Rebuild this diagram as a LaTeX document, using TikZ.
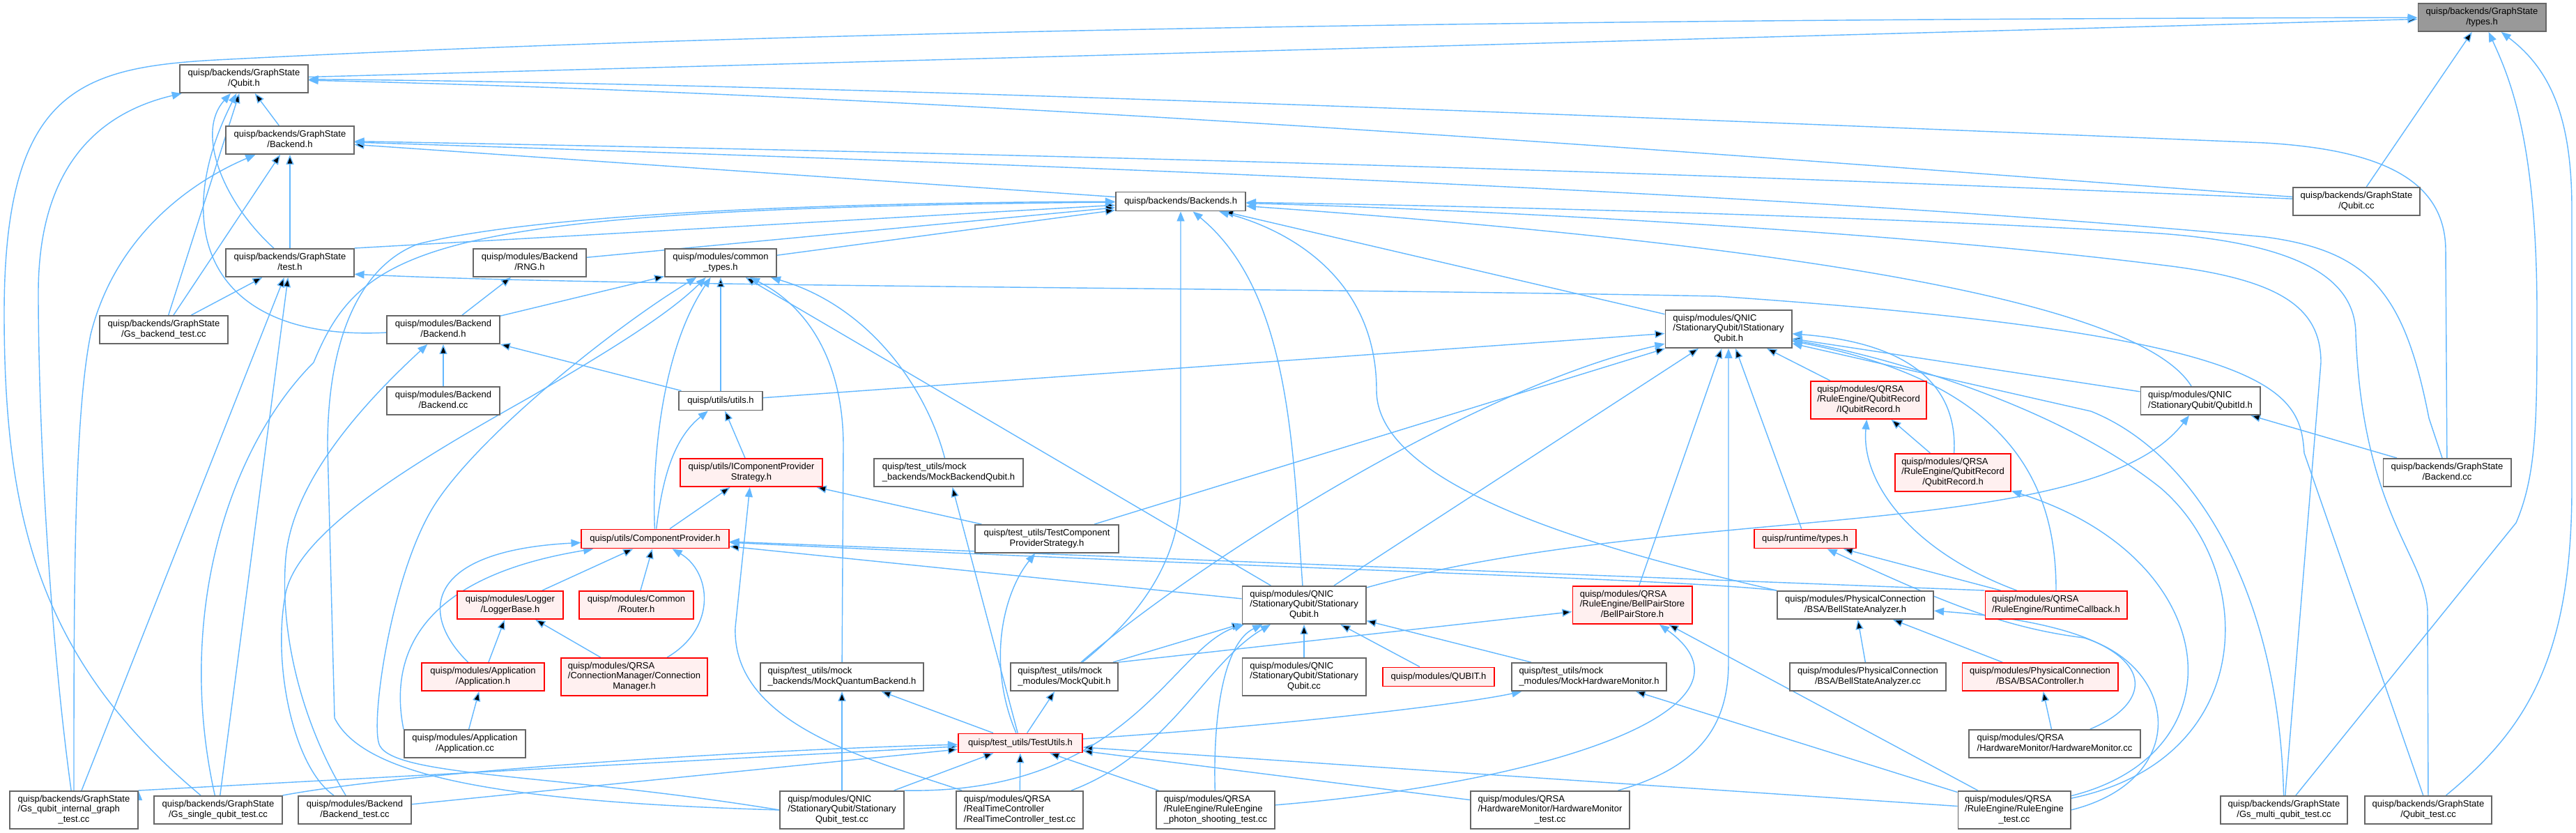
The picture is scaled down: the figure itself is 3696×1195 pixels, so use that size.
\documentclass[tikz,border=0pt]{standalone}
\usepackage{fontspec}
\setmainfont{Liberation Sans}
\usetikzlibrary{arrows.meta}
\pgfdeclarelayer{background}
\pgfsetlayers{background,main}
\definecolor{edgeblue}{HTML}{63B8FF}
\definecolor{bordergray}{HTML}{666666}
\definecolor{rootgray}{HTML}{999999}
\definecolor{redfill}{HTML}{FFF0F0}
\definecolor{redborder}{HTML}{FF0000}
\newcommand{\lbl}[2]{\begin{tabular}{@{}l@{}}#1\\\multicolumn{1}{@{}c@{}}{#2}\end{tabular}}

\begin{document}
\begin{tikzpicture}[x=0.01cm,y=-0.01cm,
    every node/.style={rectangle,inner sep=0pt,font=\fontsize{3.7}{4.1}\selectfont},
    graynode/.style={draw=bordergray,line width=0.55pt,fill=white},
    rednode/.style={draw=redborder,line width=0.55pt,fill=redfill},
    rootnode/.style={draw=bordergray,line width=0.55pt,fill=rootgray},
    oneline/.style={minimum height=0.27cm},
    twoline/.style={minimum height=0.40cm},
    threeline/.style={minimum height=0.54cm},
    bluearrow/.style={draw=edgeblue,line width=0.4pt,-{Triangle[length=0.14cm,width=0.11cm]}}
  ]
    \node[rootnode,twoline,minimum width=1.83cm] (ty) at (3561,25) {\lbl{quisp/backends/GraphState}{/types.h}};
    \node[graynode,twoline,minimum width=1.83cm] (gsq) at (350,113) {\lbl{quisp/backends/GraphState}{/Qubit.h}};
    \node[graynode,twoline,minimum width=1.83cm] (gsb) at (416,201) {\lbl{quisp/backends/GraphState}{/Backend.h}};
    \node[graynode,oneline,minimum width=1.86cm] (bks) at (1694,289) {quisp/backends/Backends.h};
    \node[graynode,twoline,minimum width=1.82cm] (gqcc) at (3381,289) {\lbl{quisp/backends/GraphState}{/Qubit.cc}};
    \node[graynode,twoline,minimum width=1.83cm] (gst) at (416,377) {\lbl{quisp/backends/GraphState}{/test.h}};
    \node[graynode,twoline,minimum width=1.62cm] (rng) at (760,377) {\lbl{quisp/modules/Backend}{/RNG.h}};
    \node[graynode,twoline,minimum width=1.60cm] (ct) at (1034,377) {\lbl{quisp/modules/common}{\_types.h}};
    \node[graynode,twoline,minimum width=1.83cm] (gsbt) at (235,473) {\lbl{quisp/backends/GraphState}{/Gs\_backend\_test.cc}};
    \node[graynode,twoline,minimum width=1.62cm] (mbh) at (636,473) {\lbl{quisp/modules/Backend}{/Backend.h}};
    \node[graynode,threeline,minimum width=1.81cm] (isq) at (2480,472) {\lbl{quisp/modules/QNIC\\/StationaryQubit/IStationary}{Qubit.h}};
    \node[graynode,twoline,minimum width=1.62cm] (mbcc) at (636,575) {\lbl{quisp/modules/Backend}{/Backend.cc}};
    \node[graynode,oneline,minimum width=1.20cm] (uti) at (1034,575) {quisp/utils/utils.h};
    \node[rednode,threeline,minimum width=1.66cm] (iqr) at (2681,574) {\lbl{quisp/modules/QRSA\\/RuleEngine/QubitRecord}{/IQubitRecord.h}};
    \node[graynode,twoline,minimum width=1.71cm] (qid) at (3157,575) {\lbl{quisp/modules/QNIC}{/StationaryQubit/QubitId.h}};
    \node[rednode,twoline,minimum width=2.03cm] (icps) at (1078,678) {\lbl{quisp/utils/IComponentProvider}{Strategy.h}};
    \node[graynode,twoline,minimum width=2.13cm] (mbq) at (1361,678) {\lbl{quisp/test\_utils/mock}{\_backends/MockBackendQubit.h}};
    \node[rednode,threeline,minimum width=1.66cm] (qr) at (2802,678) {\lbl{quisp/modules/QRSA\\/RuleEngine/QubitRecord}{/QubitRecord.h}};
    \node[graynode,twoline,minimum width=1.83cm] (gbcc) at (3511,678) {\lbl{quisp/backends/GraphState}{/Backend.cc}};
    \node[rednode,oneline,minimum width=2.11cm] (cp) at (940,773) {quisp/utils/ComponentProvider.h};
    \node[graynode,twoline,minimum width=2.06cm] (tcps) at (1502,773) {\lbl{quisp/test\_utils/TestComponent}{ProviderStrategy.h}};
    \node[rednode,oneline,minimum width=1.46cm] (rty) at (2590,773) {quisp/runtime/types.h};
    \node[rednode,twoline,minimum width=1.51cm] (lb) at (732,868) {\lbl{quisp/modules/Logger}{/LoggerBase.h}};
    \node[rednode,twoline,minimum width=1.64cm] (rt) at (913,868) {\lbl{quisp/modules/Common}{/Router.h}};
    \node[graynode,threeline,minimum width=1.77cm] (sq) at (1871,868) {\lbl{quisp/modules/QNIC\\/StationaryQubit/Stationary}{Qubit.h}};
    \node[rednode,threeline,minimum width=1.71cm] (bps) at (2342,868) {\lbl{quisp/modules/QRSA\\/RuleEngine/BellPairStore}{/BellPairStore.h}};
    \node[graynode,twoline,minimum width=2.24cm] (bsa) at (2662,868) {\lbl{quisp/modules/PhysicalConnection}{/BSA/BellStateAnalyzer.h}};
    \node[rednode,twoline,minimum width=2.03cm] (rc) at (2950,868) {\lbl{quisp/modules/QRSA}{/RuleEngine/RuntimeCallback.h}};
    \node[rednode,twoline,minimum width=1.75cm] (ap) at (693,971) {\lbl{quisp/modules/Application}{/Application.h}};
    \node[rednode,threeline,minimum width=2.10cm] (cm) at (910,971) {\lbl{quisp/modules/QRSA\\/ConnectionManager/Connection}{Manager.h}};
    \node[graynode,twoline,minimum width=2.34cm] (mqb) at (1208,971) {\lbl{quisp/test\_utils/mock}{\_backends/MockQuantumBackend.h}};
    \node[graynode,twoline,minimum width=1.54cm] (mq) at (1527,971) {\lbl{quisp/test\_utils/mock}{\_modules/MockQubit.h}};
    \node[graynode,threeline,minimum width=1.77cm] (sqcc) at (1871,971) {\lbl{quisp/modules/QNIC\\/StationaryQubit/Stationary}{Qubit.cc}};
    \node[rednode,oneline,minimum width=1.60cm] (qb) at (2064,971) {quisp/modules/QUBIT.h};
    \node[graynode,twoline,minimum width=2.21cm] (mhm) at (2280,971) {\lbl{quisp/test\_utils/mock}{\_modules/MockHardwareMonitor.h}};
    \node[graynode,twoline,minimum width=2.24cm] (bsacc) at (2680,971) {\lbl{quisp/modules/PhysicalConnection}{/BSA/BellStateAnalyzer.cc}};
    \node[rednode,twoline,minimum width=2.23cm] (bsac) at (2927,971) {\lbl{quisp/modules/PhysicalConnection}{/BSA/BSAController.h}};
    \node[graynode,twoline,minimum width=1.74cm] (apcc) at (667,1067) {\lbl{quisp/modules/Application}{/Application.cc}};
    \node[rednode,oneline,minimum width=1.78cm] (tu) at (1464,1066) {quisp/test\_utils/TestUtils.h};
    \node[graynode,twoline,minimum width=2.45cm] (hmcc) at (2948,1067) {\lbl{quisp/modules/QRSA}{/HardwareMonitor/HardwareMonitor.cc}};
    \node[graynode,threeline,minimum width=1.83cm] (gqig) at (106,1162) {\lbl{quisp/backends/GraphState\\/Gs\_qubit\_internal\_graph}{\_test.cc}};
    \node[graynode,twoline,minimum width=1.83cm] (gsqt) at (313,1162) {\lbl{quisp/backends/GraphState}{/Gs\_single\_qubit\_test.cc}};
    \node[graynode,twoline,minimum width=1.61cm] (mbt) at (509,1162) {\lbl{quisp/modules/Backend}{/Backend\_test.cc}};
    \node[graynode,threeline,minimum width=1.77cm] (sqt) at (1208,1162) {\lbl{quisp/modules/QNIC\\/StationaryQubit/Stationary}{Qubit\_test.cc}};
    \node[graynode,threeline,minimum width=1.82cm] (rtct) at (1463,1162) {\lbl{quisp/modules/QRSA\\/RealTimeController}{/RealTimeController\_test.cc}};
    \node[graynode,threeline,minimum width=1.70cm] (pst) at (1744,1162) {\lbl{quisp/modules/QRSA\\/RuleEngine/RuleEngine}{\_photon\_shooting\_test.cc}};
    \node[graynode,threeline,minimum width=2.27cm] (hmt) at (2224,1162) {\lbl{quisp/modules/QRSA\\/HardwareMonitor/HardwareMonitor}{\_test.cc}};
    \node[graynode,threeline,minimum width=1.61cm] (ret) at (2890,1162) {\lbl{quisp/modules/QRSA\\/RuleEngine/RuleEngine}{\_test.cc}};
    \node[graynode,twoline,minimum width=1.82cm] (gmqt) at (3277,1162) {\lbl{quisp/backends/GraphState}{/Gs\_multi\_qubit\_test.cc}};
    \node[graynode,twoline,minimum width=1.82cm] (qt) at (3484,1162) {\lbl{quisp/backends/GraphState}{/Qubit\_test.cc}};

    \begin{pgfonlayer}{background}
    \path[use as bounding box,fill=white] (0,0) rectangle (3696,1195);
    \path[bluearrow]
        (gsq) edge (ty)
        (gqcc) edge (ty)
        (gsb) edge (gsq)
        (gsbt) edge (gsq)
        (gst) edge (gsb)
        (gsbt) edge (gsb)
        (gsbt) edge (gst)
        (bks) edge (gsb)
        (gst.north east) edge (bks)
        (rng) edge (bks)
        (ct) edge (bks)
        (isq) edge (bks)
        (mbh) edge (rng)
        (mbh) edge (ct)
        (mbcc) edge (mbh)
        (uti) edge (mbh)
        (uti) edge (ct)
        (uti) edge (isq)
        (icps) edge (uti)
        (cp) edge (icps)
        (tcps) edge (icps)
        (tcps) edge (isq)
        (lb) edge (cp)
        (rt) edge (cp)
        (ap) edge (lb)
        (cm) edge (lb)
        (apcc) edge (ap)
        (sq) edge (cp)
        (rc.north west) edge (cp)
        (sq) edge (ct)
        (sq) edge (isq)
        (qid) edge (isq)
        (iqr) edge (isq)
        (qr) edge (iqr)
        (rty) edge (isq)
        (bps) edge (isq)
        (rc) edge (rty)
        (mq) edge (sq)
        (sqcc) edge (sq)
        (qb) edge (sq)
        (mhm) edge (sq)
        (mq.north east) edge (bps)
        (ret) edge (bps)
        (ret) edge (mhm)
        (bsacc) edge (bsa)
        (bsac) edge (bsa)
        (hmcc) edge (bsac)
        (tu) edge (mq)
        (tu) edge (mqb)
        (tu) edge (mbq)
        (sqt) edge (mqb)
        (gqig) edge (gst)
        (gsqt) edge (gst)
        (gqig.north east) edge (tu)
        (mbt) edge (tu)
        (sqt) edge (tu)
        (rtct) edge (tu)
        (pst) edge (tu)
        (hmt) edge (tu)
        (ret) edge (tu)
        (gbcc) edge (qid);
    \draw[bluearrow] (gsqt) .. controls (60,950) and (6,750) .. (6,450) .. controls (6,120) and (120,95) .. (330,85) .. controls (1300,35) and (2600,27) .. (ty);
    \draw[bluearrow] (gmqt) -- (3610,750) .. controls (3640,680) and (3640,600) .. (3640,450) .. controls (3640,200) and (3600,110) .. (ty);
    \draw[bluearrow] (qt) .. controls (3620,1050) and (3690,950) .. (3690,700) -- (3690,300) .. controls (3690,170) and (3660,100) .. (ty);
    \draw[bluearrow] (gqig) .. controls (70,900) and (55,600) .. (55,420) .. controls (55,230) and (150,160) .. (gsq);
    \draw[bluearrow] (gqig) .. controls (106,850) and (106,600) .. (130,480) .. controls (170,320) and (300,250) .. (gsb);
    \draw[bluearrow] (gst) .. controls (320,290) and (280,190) .. (gsq);
    \draw[bluearrow] (mbh) .. controls (300,490) and (240,330) .. (gsq);
    \draw[bluearrow] (gqcc) .. controls (2700,240) and (1500,140) .. (gsq);
    \draw[bluearrow] (gqcc) .. controls (2800,265) and (2000,230) .. (gsb);
    \draw[bluearrow] (gbcc) -- (3509,360) .. controls (3509,260) and (3420,215) .. (3250,205) .. controls (2400,170) and (1200,120) .. (gsq);
    \draw[bluearrow] (gbcc) -- (3485,600) .. controls (3450,420) and (3400,360) .. (3250,340) .. controls (2500,270) and (1300,230) .. (gsb);
    \draw[bluearrow] (gsqt) .. controls (250,880) and (330,640) .. (450,520) .. controls (520,350) and (620,300) .. (bks);
    \draw[bluearrow] (sqt.west) .. controls (700,1150) and (520,1110) .. (480,1030) -- (470,640) .. controls (470,480) and (520,380) .. (600,350) .. controls (800,300) and (1300,290) .. (bks);
    \draw[bluearrow] (mbt) .. controls (440,1050) and (400,920) .. (410,800) .. controls (420,690) and (520,580) .. (mbh);
    \draw[bluearrow] (mbt) .. controls (420,1100) and (390,950) .. (410,850) .. controls (430,760) and (600,660) .. (760,570) .. controls (880,500) and (960,450) .. (ct);
    \draw[bluearrow] (gsqt.north east) .. controls (600,1105) and (1100,1075) .. (tu);
    \draw[bluearrow] (sqt.west) .. controls (800,1110) and (570,1115) .. (545,1070) .. controls (530,1043) and (560,830) .. (620,730) .. controls (680,630) and (880,470) .. (ct);
    \draw[bluearrow] (mqb) -- (1210,640) .. controls (1210,520) and (1160,440) .. (ct);
    \draw[bluearrow] (mbq) .. controls (1330,560) and (1250,440) .. (ct);
    \draw[bluearrow] (cp) .. controls (935,660) and (950,500) .. (ct);
    \draw[bluearrow] (cp) .. controls (950,690) and (965,630) .. (uti);
    \draw[bluearrow] (rtct) .. controls (1250,1090) and (1050,1040) .. (1055,900) -- (icps);
    \draw[bluearrow] (ap) .. controls (600,880) and (610,790) .. (cp);
    \draw[bluearrow] (apcc.north west) .. controls (560,950) and (590,830) .. (cp);
    \draw[bluearrow] (cm) .. controls (1030,900) and (1020,820) .. (cp);
    \draw[bluearrow] (bsa.north west) .. controls (2400,830) and (1800,815) .. (cp);
    \draw[bluearrow] (tu) .. controls (1415,950) and (1440,850) .. (tcps);
    \draw[bluearrow] (tu) .. controls (1850,1040) and (2100,1010) .. (mhm);
    \draw[bluearrow] (sq) .. controls (1855,650) and (1853,420) .. (bks);
    \draw[bluearrow] (sq) .. controls (2400,720) and (3000,780) .. (qid);
    \draw[bluearrow] (mq) .. controls (1640,880) and (1694,800) .. (1694,700) -- (bks);
    \draw[bluearrow] (mq) .. controls (1700,820) and (2100,560) .. (isq);
    \draw[bluearrow] (sqt.north east) .. controls (1620,1140) and (1680,930) .. (sq);
    \draw[bluearrow] (rtct) .. controls (1680,1080) and (1730,950) .. (sq);
    \draw[bluearrow] (pst) .. controls (1740,1010) and (1760,920) .. (sq);
    \draw[bluearrow] (pst) .. controls (2250,1120) and (2540,1010) .. (bps);
    \draw[bluearrow] (hmt) .. controls (2440,1100) and (2480,1040) .. (2480,950) -- (isq);
    \draw[bluearrow] (bsa.north west) .. controls (2300,790) and (1975,700) .. (1975,560) .. controls (1975,400) and (1850,330) .. (bks);
    \draw[bluearrow] (qid) .. controls (3080,450) and (2700,360) .. (bks);
    \draw[bluearrow] (qr) .. controls (2810,540) and (2720,490) .. (isq);
    \draw[bluearrow] (rc) .. controls (2950,700) and (2890,550) .. (isq);
    \draw[bluearrow] (rc) .. controls (2740,790) and (2670,690) .. (iqr);
    \draw[bluearrow] (hmcc) .. controls (3110,1000) and (3100,900) .. (bsa);
    \draw[bluearrow] (ret.east) .. controls (3140,1120) and (3130,960) .. (2990,915) .. controls (2870,900) and (2780,860) .. (rty);
    \draw[bluearrow] (ret) .. controls (3220,1080) and (3190,800) .. (qr);
    \draw[bluearrow] (ret) .. controls (3240,1090) and (3240,820) .. (3100,700) .. controls (2950,580) and (2700,510) .. (isq);
    \draw[bluearrow] (gmqt) .. controls (3270,850) and (3150,650) .. (3000,590) -- (isq);
    \draw[bluearrow] (gmqt) -- (3330,520) .. controls (3330,440) and (3270,400) .. (3100,380) .. controls (2700,330) and (2100,300) .. (bks);
    \draw[bluearrow] (qt) -- (3483,880) .. controls (3483,800) and (3390,740) .. (3380,480) .. controls (3380,400) and (3300,350) .. (3100,335) .. controls (2700,310) and (2100,295) .. (bks);
    \draw[bluearrow] (qt) -- (3306,650) .. controls (3300,560) and (3270,480) .. (2464,425) .. controls (1800,412) and (900,412) .. (gst.-10);
    \end{pgfonlayer}
\end{tikzpicture}
\end{document}
